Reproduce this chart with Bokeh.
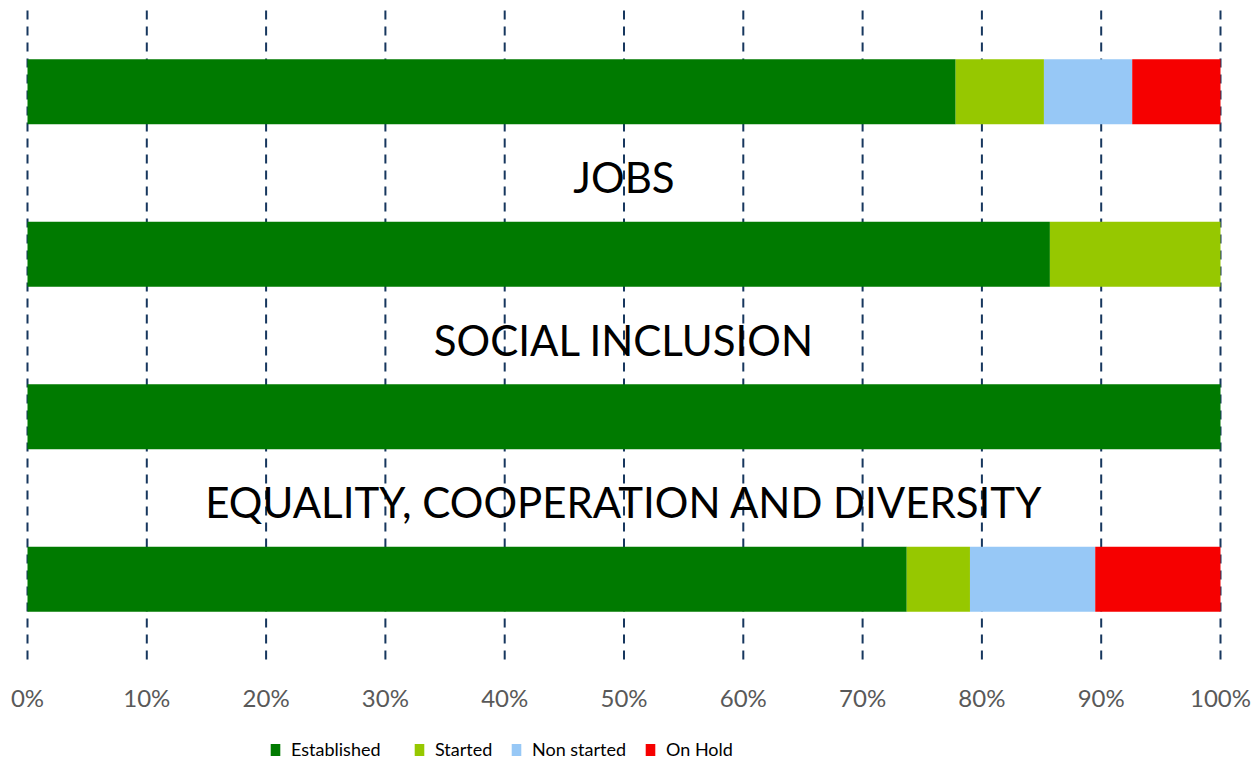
from bokeh.plotting import figure
from bokeh.models import Range1d, Legend, LegendItem, ColumnDataSource
from bokeh.core.properties import value
from bokeh.embed import file_html
from bokeh.resources import INLINE

# ---- data ----
categories = ["", "JOBS", "SOCIAL INCLUSION", "EQUALITY, COOPERATION AND DIVERSITY"]
established = [77.8, 85.7, 100.0, 73.7]
started = [7.4, 14.3, 0.0, 5.3]
non_started = [7.4, 0.0, 0.0, 10.5]
on_hold = [7.4, 0.0, 0.0, 10.5]
series_names = ["Established", "Started", "Non started", "On Hold"]
tick_values = [0, 10, 20, 30, 40, 50, 60, 70, 80, 90, 100]
tick_labels = ["0%", "10%", "20%", "30%", "40%", "50%", "60%", "70%", "80%", "90%", "100%"]

# ---- style / layout ----
colors = ["#007A00", "#96C800", "#97C8F6", "#F60000"]
grid_color = "#17375E"
label_offset = 0.475
W, H = 1256, 761
plot_left_px, plot_right_px, plot_top_px = 27, 1220, 10   # where 0%, 100% and grid top sit
px_per_unit_y = 162.5        # vertical pixels per category row
grid_bottom_gap = 101        # pixels from grid bottom to figure bottom
tick_label_gap = 37          # pixels from grid bottom to tick label centre
px_per_pct = (plot_right_px - plot_left_px) / 100.0

n = len(categories)
ypos = [n - 1 - i for i in range(n)]
y_grid_top = n - 0.5
y_grid_bottom = -0.5
y_top = y_grid_top + plot_top_px / px_per_unit_y
y_bottom = y_grid_bottom - grid_bottom_gap / px_per_unit_y
y_ticklabel = y_grid_bottom - tick_label_gap / px_per_unit_y
x_start = -plot_left_px / px_per_pct
x_end = 100 + (W - plot_right_px) / px_per_pct

source = ColumnDataSource(dict(
    ypos=ypos,
    established=established,
    started=started,
    non_started=non_started,
    on_hold=on_hold,
))

p = figure(width=W, height=H, output_backend="svg", toolbar_location=None,
           x_range=Range1d(x_start, x_end), y_range=Range1d(y_bottom, y_top),
           min_border_left=0, min_border_right=0,
           min_border_top=0, min_border_bottom=0)
p.outline_line_color = None
p.background_fill_color = "white"
p.border_fill_color = "white"
p.xaxis.visible = False
p.yaxis.visible = False
p.xgrid.grid_line_color = None
p.ygrid.grid_line_color = None

# dashed vertical gridlines (drawn from top to bottom so the dash phase starts at the top)
grid_src = ColumnDataSource(dict(x=tick_values, y0=[y_grid_top] * len(tick_values),
                                 y1=[y_grid_bottom] * len(tick_values)))
p.segment(x0="x", y0="y0", x1="x", y1="y1", source=grid_src,
          line_color=grid_color, line_width=2, line_dash="9 7")

renderers = p.hbar_stack(["established", "started", "non_started", "on_hold"],
                         y="ypos", height=0.4, fill_color=colors, line_color=None,
                         source=source)

# category labels above each bar
lab_src = ColumnDataSource(dict(x=[50] * n, y=[v + label_offset for v in ypos],
                                text=categories))
p.text(x="x", y="y", text="text", source=lab_src, text_align="center",
       text_baseline="middle", text_font=value("Lato"), text_font_size="42px",
       text_color="#000000")

# x tick labels
tick_src = ColumnDataSource(dict(x=tick_values, y=[y_ticklabel] * len(tick_values),
                                 text=tick_labels))
p.text(x="x", y="y", text="text", source=tick_src, text_align="center",
       text_baseline="middle", text_font=value("Lato"), text_font_size="24px",
       text_color="#595959")

# legends (one per item to reproduce spacing)
legend_x = [269, 413, 510, 644]
for r, name, lx in zip(renderers, series_names, legend_x):
    lg = Legend(items=[LegendItem(label=name, renderers=[r])], location=(lx, 1),
                orientation="horizontal", padding=0, margin=0, spacing=0,
                border_line_color=None, background_fill_alpha=0,
                glyph_width=12, glyph_height=15, label_standoff=10,
                label_text_font="Lato", label_text_font_size="18px",
                label_text_color="#000000")
    p.add_layout(lg, "center")

open("out.html", "w").write(file_html(p, INLINE))
